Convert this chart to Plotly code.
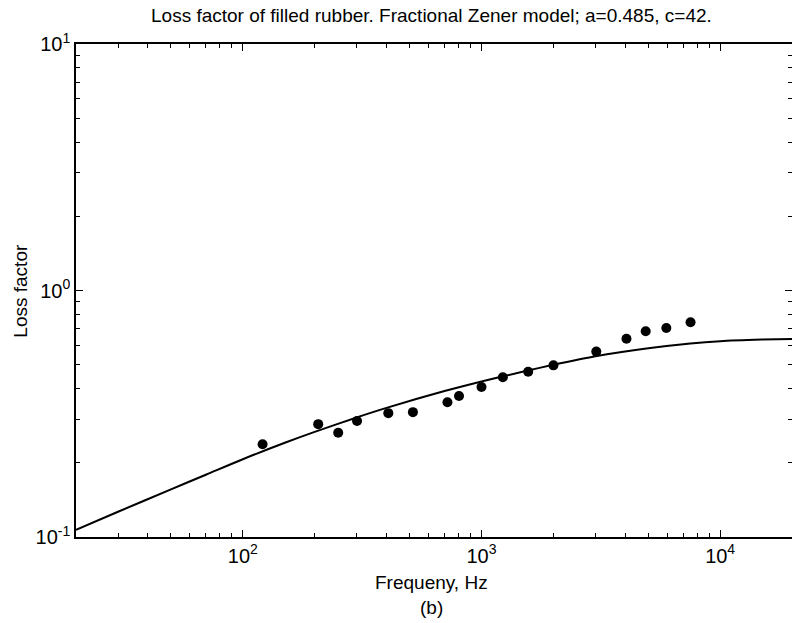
import plotly.graph_objects as go

# measured data points (frequency in Hz, loss factor)
meas_freq = [121, 207, 251, 301, 407, 516, 720, 805, 1000, 1229, 1569, 2002,
             3027, 4050, 4876, 5950, 7515]
meas_loss = [0.238, 0.287, 0.265, 0.2955, 0.318, 0.321, 0.352, 0.373, 0.406,
             0.4445, 0.4685, 0.497, 0.565, 0.6375, 0.683, 0.7045, 0.743]

# model curve
model_freq = [20, 30, 50, 70, 100, 150, 200, 300, 400, 700, 1000, 1500, 2000,
              3000, 5000, 7500, 10000, 15000, 20000]
model_loss = [0.107, 0.1266, 0.1561, 0.1789, 0.2068, 0.2412, 0.267, 0.3055,
              0.334, 0.3908, 0.4276, 0.469, 0.4995, 0.541, 0.583, 0.610,
              0.623, 0.632, 0.636]

x_ticks = [100, 1000, 10000]
x_ticktext = ["10<sup>2</sup>", "10<sup>3</sup>", "10<sup>4</sup>"]
y_ticks = [0.1, 1, 10]
y_ticktext = ["10<sup>-1</sup>", "10<sup>0</sup>", "10<sup>1</sup>"]

x_minor = [m * 10 ** e for e in (1, 2, 3, 4) for m in range(2, 10)]
y_minor = [m * 10 ** e for e in (-1, 0) for m in range(2, 10)]

FONT = "Liberation Sans, Arial, sans-serif"

fig = go.Figure()
fig.add_trace(go.Scatter(x=model_freq, y=model_loss, mode="lines",
                         line=dict(color="black", width=2, shape="spline",
                                   smoothing=0.8),
                         showlegend=False))
fig.add_trace(go.Scatter(x=meas_freq, y=meas_loss, mode="markers",
                         marker=dict(color="black", size=10),
                         showlegend=False))

axis_common = dict(showgrid=False, zeroline=False, showline=True,
                   linecolor="black", linewidth=1.5, mirror="ticks",
                   ticks="inside", ticklen=7, tickcolor="black", tickwidth=1,
                   tickfont=dict(family=FONT, size=20, color="black"))

fig.update_xaxes(type="log", range=[1.30103, 4.30103], tickmode="array",
                 tickvals=x_ticks, ticktext=x_ticktext,
                 minor=dict(tickmode="array", tickvals=x_minor, ticks="inside",
                            ticklen=4, tickcolor="black", showgrid=False),
                 **axis_common)
fig.update_yaxes(type="log", range=[-1, 1], tickmode="array",
                 tickvals=y_ticks, ticktext=y_ticktext,
                 minor=dict(tickmode="array", tickvals=y_minor, ticks="inside",
                            ticklen=4, tickcolor="black", showgrid=False),
                 **axis_common)

# plot area: x 76..794 px, y 44..537 px
txt = dict(family=FONT, color="black")
fig.update_layout(
    width=794, height=623,
    margin=dict(l=76, r=0, t=44, b=86),
    paper_bgcolor="white", plot_bgcolor="white",
    annotations=[
        dict(text="Loss factor of filled rubber. Fractional Zener model; a=0.485, c=42.",
             xref="paper", yref="paper", x=0.496, y=1.0568,
             xanchor="center", yanchor="middle", showarrow=False,
             font=dict(size=19, **txt)),
        dict(text="Frequeny, Hz", xref="paper", yref="paper", x=0.496,
             y=-0.0913, xanchor="center", yanchor="middle", showarrow=False,
             font=dict(size=19, **txt)),
        dict(text="(b)", xref="paper", yref="paper", x=0.496, y=-0.142,
             xanchor="center", yanchor="middle", showarrow=False,
             font=dict(size=19, **txt)),
        dict(text="Loss factor", xref="paper", yref="paper", x=-0.078,
             y=0.5, xanchor="center", yanchor="middle", textangle=-90,
             showarrow=False, font=dict(size=19, **txt)),
    ],
)

fig.write_html("out.html", config={"displayModeBar": False},
               post_script="document.body.style.margin='0';"
                           "document.body.style.overflow='hidden';")
